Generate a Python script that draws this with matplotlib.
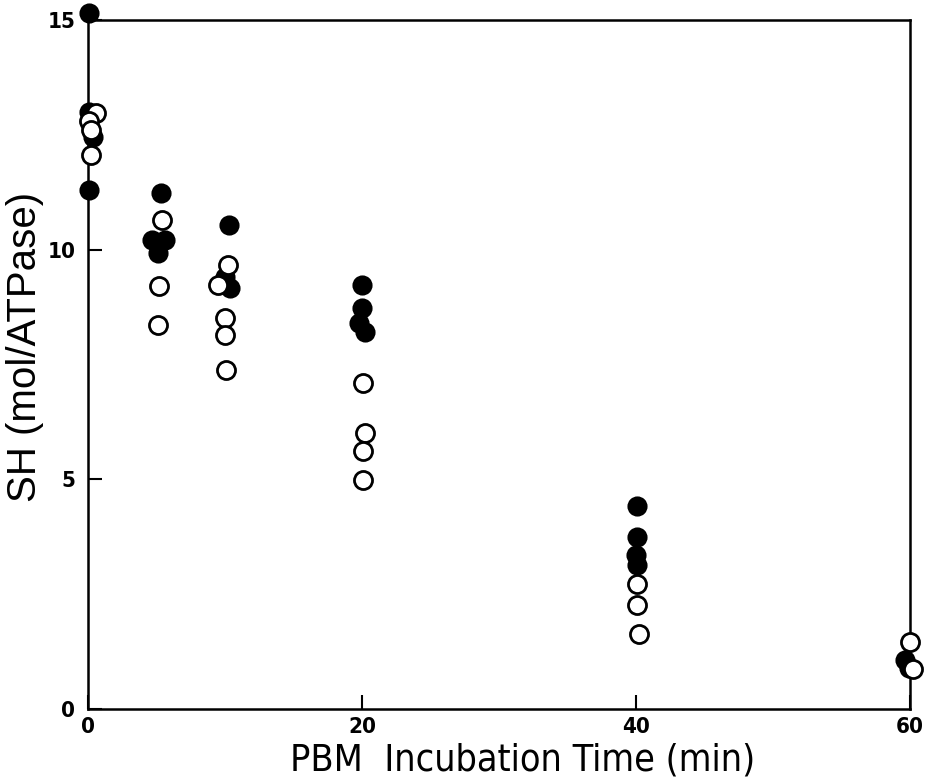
import matplotlib
matplotlib.use("Agg")
import matplotlib.pyplot as plt

# filled and open circles, x = incubation time (min), y = SH (mol/ATPase)
filled_t = [0.1, 0.1, 0.4, 0.1,
            4.7, 5.6, 5.1, 5.3,
            10.3, 10.0, 10.4,
            20.0, 20.0, 19.8, 20.2,
            40.1, 40.1, 40.0, 40.1,
            59.6, 59.9]
filled_sh = [15.15, 13.0, 12.45, 11.3,
             10.2, 10.2, 9.93, 11.24,
             10.54, 9.4, 9.17,
             9.24, 8.74, 8.4, 8.2,
             4.43, 3.74, 3.35, 3.13,
             1.07, 0.9]

open_t = [0.6, 0.1, 0.2, 0.2,
          5.4, 5.2, 5.1,
          10.2, 9.5, 10.0, 10.0, 10.1,
          20.1, 20.2, 20.1, 20.1,
          40.1, 40.1, 40.2,
          60.0, 60.2]
open_sh = [12.98, 12.8, 12.6, 12.05,
           10.65, 9.2, 8.37,
           9.67, 9.24, 8.52, 8.15, 7.39,
           7.1, 6.0, 5.62, 4.98,
           2.72, 2.26, 1.63,
           1.45, 0.87]

narrow = ['Liberation Sans Narrow', 'DejaVu Sans']

fig = plt.figure(figsize=(9.25, 7.83), dpi=100)
ax = fig.add_axes([0.0951, 0.0945, 0.8887, 0.88])

ax.plot(filled_t, filled_sh, 'o', ms=13, mfc='black', mec='black', mew=1.5,
        clip_on=False, zorder=3)
ax.plot(open_t, open_sh, 'o', ms=13, mfc='white', mec='black', mew=2,
        clip_on=False, zorder=4)

ax.set_xlim(0, 60)
ax.set_ylim(0, 15)
ax.set_xticks([0, 20, 40, 60])
ax.set_yticks([0, 5, 10, 15])
ax.tick_params(direction='in', length=10, width=1.5)
ax.tick_params(axis='x', pad=6)
ax.tick_params(axis='y', pad=9)
for lab in ax.get_xticklabels() + ax.get_yticklabels():
    lab.set_fontsize(16)
    lab.set_fontweight('bold')
    lab.set_family(narrow)
    lab.set_fontstretch('condensed')
for s in ax.spines.values():
    s.set_linewidth(1.8)

ax.set_xlabel('PBM  Incubation Time (min)', fontsize=27, family=narrow,
              fontstretch='condensed')
ax.xaxis.set_label_coords(0.529, -0.049)
ax.set_ylabel('SH (mol/ATPase)', fontsize=29,
              family=['Liberation Sans', 'DejaVu Sans'])
ax.yaxis.set_label_coords(-0.053, 0.526)

fig.savefig('out.png', dpi=100)
